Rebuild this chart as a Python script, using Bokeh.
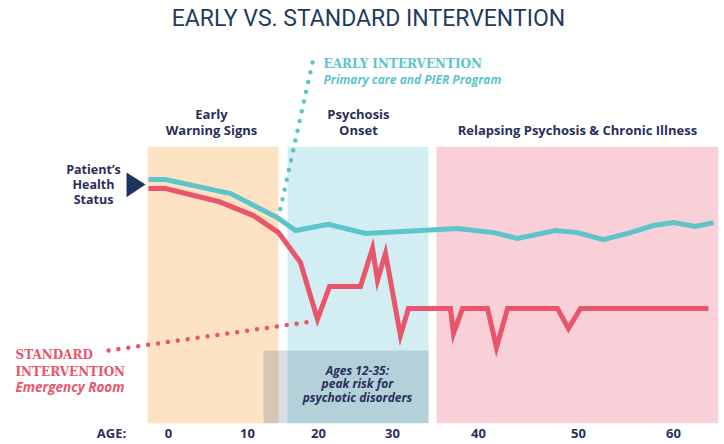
from bokeh.plotting import figure
from bokeh.models import Range1d, FixedTicker, Label
from bokeh.embed import file_html
from bokeh.resources import INLINE

# ---- data (timeline position units; "health status" units) ----
AGE_TICK_LABELS = ["AGE:", "0", "10", "20", "30", "40", "50", "60"]
AGE_TICK_POS = [-6.77, 0.0, 9.39, 17.82, 26.61, 36.83, 48.71, 60.0]

ZONE_NAMES = ["Early\nWarning Signs", "Psychosis\nOnset", "Relapsing Psychosis & Chronic Illness"]
ZONE_START = [-2.5, 14.14, 31.84]
ZONE_END = [13.07, 30.9, 65.3]
ZONE_TOP = [66.7, 66.7, 66.7]
ZONE_COLORS = ["#fde3c3", "#d3eef2", "#f9d0d8"]

RISK_START = [11.29]
RISK_END = [30.9]
RISK_TOP = [17.6]

EARLY_T = [-2.38, -0.36, 7.37, 12.95, 15.09, 19.01, 23.41, 34.34, 38.61, 41.47,
           45.98, 48.59, 51.68, 54.89, 57.62, 60.0, 62.61, 64.75]
EARLY_HEALTH = [58.8, 58.8, 55.4, 49.6, 46.5, 48.0, 45.8, 47.0, 46.0, 44.6,
                46.5, 46.0, 44.3, 46.0, 47.7, 48.4, 47.5, 48.4]

STANDARD_T = [-2.38, -0.36, 5.94, 10.1, 13.07, 15.68, 17.70, 19.13, 22.81, 24.24,
              24.83, 25.78, 27.56, 28.51, 33.50, 33.86, 34.93, 37.90, 38.97, 40.28,
              46.22, 47.52, 48.95, 64.16]
STANDARD_HEALTH = [56.6, 56.6, 53.5, 50.1, 46.0, 38.8, 25.1, 33.0, 33.0, 42.2,
                   34.5, 41.0, 21.2, 27.7, 27.7, 21.7, 27.7, 27.7, 18.3, 27.7,
                   27.7, 22.9, 27.7, 27.7]

NAVY = "#2b2e5c"
TEAL = "#5cc4cb"
RED = "#e9566b"
SANS = "Open Sans"

p = figure(width=724, height=444, output_backend="svg", toolbar_location=None,
           x_range=Range1d(-19.96, 66.06), y_range=Range1d(0, 101.93),
           min_border_left=0, min_border_right=0, min_border_top=0, min_border_bottom=21)
p.outline_line_color = None
p.grid.visible = False
p.yaxis.visible = False
p.background_fill_color = "white"
p.border_fill_color = "white"

# zones
p.quad(left=ZONE_START, right=ZONE_END, bottom=0, top=ZONE_TOP,
       fill_color=ZONE_COLORS, line_color=None)
p.quad(left=RISK_START, right=RISK_END, bottom=0, top=RISK_TOP,
       fill_color="#3a5a7a", fill_alpha=0.2, line_color=None)

# lines
p.line(EARLY_T, EARLY_HEALTH, line_color=TEAL, line_width=5, line_join="miter")
p.line(STANDARD_T, STANDARD_HEALTH, line_color=RED, line_width=5, line_join="miter")

# leader dots
p.line([17.11, 13.19], [87.0, 50.8], line_color=TEAL, line_width=4.5,
       line_dash="0 10", line_cap="round")
p.line([-7.13, 17.11], [17.6, 24.6], line_color=RED, line_width=4.5,
       line_dash="0 10", line_cap="round")

# triangle marker for health status
p.patch([-4.99, -4.99, -2.73], [60.5, 54.5, 57.6], fill_color="#1c3560", line_color=None)

# axis
p.xaxis.ticker = FixedTicker(ticks=AGE_TICK_POS)
p.xaxis.major_label_overrides = {t: l for t, l in zip(AGE_TICK_POS, AGE_TICK_LABELS)}
p.xaxis.axis_line_color = None
p.xaxis.major_tick_line_color = None
p.xaxis.minor_tick_line_color = None
p.xaxis.major_tick_out = 0
p.xaxis.major_tick_in = 0
p.xaxis.minor_tick_out = 0
p.xaxis.major_label_standoff = 0
p.xaxis.major_label_text_font = SANS
p.xaxis.major_label_text_font_style = "bold"
p.xaxis.major_label_text_font_size = "13px"
p.xaxis.major_label_text_color = NAVY


def lab(x, y, text, size, color, font=SANS, style="bold", align="center"):
    p.add_layout(Label(x=x, y=y, text=text, text_font=font, text_font_style=style,
                       text_font_size=size, text_color=color, text_align=align,
                       text_baseline="middle"))


lab(23.76, 97.6, "EARLY VS. STANDARD INTERVENTION", "23px", "#1e3a5f", font="Roboto", style="normal")

lab(18.42, 86.7, "EARLY INTERVENTION", "12px", TEAL, font="DejaVu Serif", align="left")
lab(18.42, 82.9, "Primary care and PIER Program", "12px", TEAL,
    style="bold italic", align="left")

lab(5.11, 74.7, "Early", "13px", NAVY)
lab(5.11, 70.8, "Warning Signs", "13px", NAVY)
lab(22.57, 74.7, "Psychosis", "13px", NAVY)
lab(22.57, 70.8, "Onset", "13px", NAVY)
lab(48.59, 70.8, ZONE_NAMES[2], "13px", NAVY)

lab(-8.91, 61.2, "Patient\u2019s", "12.5px", NAVY)
lab(-8.91, 57.6, "Health", "12.5px", NAVY)
lab(-8.91, 54.0, "Status", "12.5px", NAVY)

lab(-18.18, 16.4, "STANDARD", "12px", RED, font="DejaVu Serif", align="left")
lab(-18.18, 12.5, "INTERVENTION", "12px", RED, font="DejaVu Serif", align="left")
lab(-18.18, 8.7, "Emergency Room", "13.5px", RED, style="bold italic", align="left")

lab(22.45, 12.8, "Ages 12-35:", "12px", NAVY, style="bold italic")
lab(22.45, 9.6, "peak risk for", "12px", NAVY, style="bold italic")
lab(22.45, 6.3, "psychotic disorders", "12px", NAVY, style="bold italic")

open("out.html", "w").write(file_html(p, INLINE))
